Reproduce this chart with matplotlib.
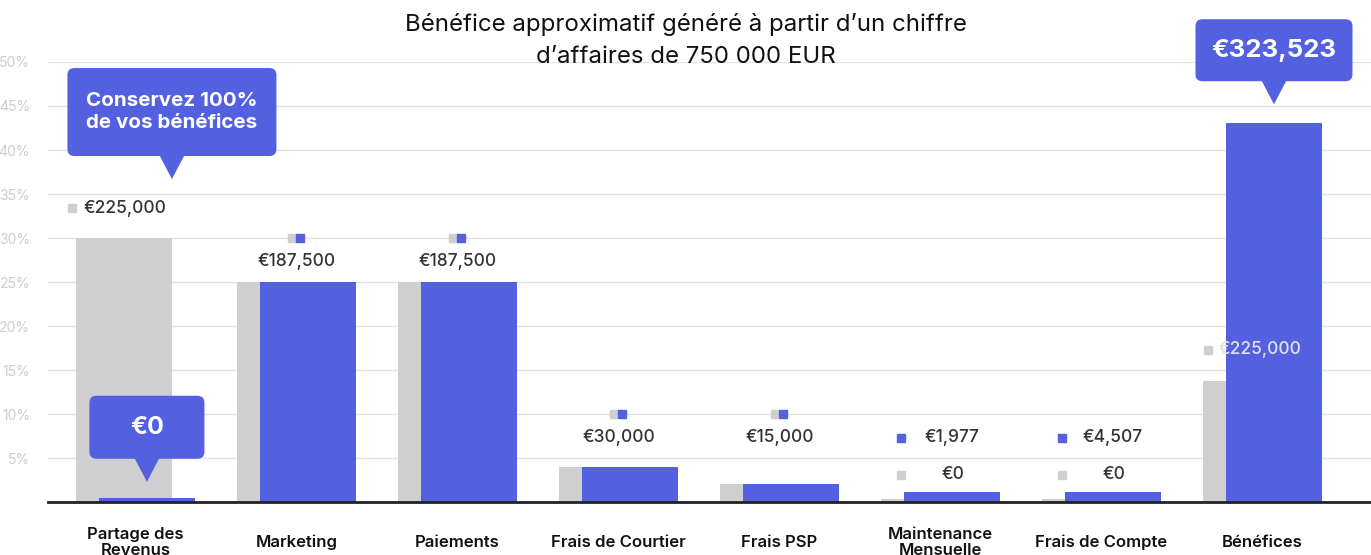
import matplotlib.pyplot as plt
from matplotlib.patches import FancyBboxPatch, Polygon

plt.rcParams['font.family'] = ['Inter', 'DejaVu Sans']

categories = ['Partage des\nRevenus', 'Marketing', 'Paiements', 'Frais de Courtier',
              'Frais PSP', 'Maintenance\nMensuelle', 'Frais de Compte', 'Bénéfices']
# share of the 750 000 EUR turnover, in %
gray_pct = [30, 25, 25, 4, 2, 0.35, 0.35, 13.7]
blue_pct = [0.45, 25, 25, 4, 2, 1.15, 1.15, 43.1]
gray_labels = ['€225,000', '€187,500', '€187,500', '€30,000', '€15,000', '€0', '€0', '€225,000']
blue_labels = ['€0', '€187,500', '€187,500', '€30,000', '€15,000', '€1,977', '€4,507', '€323,523']
yticks = [5, 10, 15, 20, 25, 30, 35, 40, 45, 50]

BLUE = '#5360E0'
GRAY = '#CFCFCF'
DARK = '#333333'
PX = 161.0   # pixels per category
PY = 8.8     # pixels per percent
W = 96 / PX
OFF = 11.5 / PX

fig = plt.figure(figsize=(13.71, 5.55), dpi=100)
ax = fig.add_axes([48 / 1371, 53 / 555, 1323 / 1371, 440 / 555])
ax.set_xlim(-0.543, 7.674)
ax.set_ylim(0, 50)

x = list(range(len(categories)))
ax.bar([i - OFF for i in x], gray_pct, width=W, color=GRAY, zorder=2)
ax.bar([i + OFF for i in x], blue_pct, width=W, color=BLUE, zorder=3)

ax.set_yticks(yticks)
ax.set_yticklabels([f'{t}%' for t in yticks], color='#cdcdcd', fontsize=10)
ax.grid(axis='y', color='#e3e3e3', linewidth=1, zorder=0)
ax.tick_params(axis='both', length=0)
ax.tick_params(axis='y', pad=13)
ax.set_xticks(x)
ax.set_xticklabels(categories, fontsize=12, fontweight='semibold', color='#111111',
                   linespacing=1.05)
for lbl in ax.get_xticklabels():
    lbl.set_va('center')
ax.tick_params(axis='x', pad=29)
for s in ['top', 'right', 'left']:
    ax.spines[s].set_visible(False)
ax.spines['bottom'].set_color('#222222')
ax.spines['bottom'].set_linewidth(2)
ax.spines['bottom'].set_zorder(5)

fig.text(0.5, 1 - 24 / 555, 'Bénéfice approximatif généré à partir d’un chiffre',
         ha='center', va='center', fontsize=17.3, color='#111111')
fig.text(0.5, 1 - 57 / 555, 'd’affaires de 750 000 EUR',
         ha='center', va='center', fontsize=17.3, color='#111111')


def square(xc, y, color):
    ax.plot([xc], [y], marker='s', markersize=6, color=color, linestyle='none',
            zorder=6, clip_on=False)


def value(xc, y, txt, color=DARK, ha='center'):
    ax.text(xc, y, txt, ha=ha, va='center', fontsize=12.5, fontweight='medium',
            color=color, zorder=7, clip_on=False)


def bubble(xc, ytip, wpx, hpx, txt, fs):
    w = wpx / PX
    h = hpx / PY
    ybot = ytip + 23 / PY
    box = FancyBboxPatch((xc - w / 2, ybot), w, h,
                         boxstyle=f'round,pad=0,rounding_size={7 / PX}',
                         mutation_aspect=PX / PY, facecolor=BLUE, edgecolor='none',
                         zorder=8, clip_on=False)
    ax.add_patch(box)
    tri = Polygon([(xc - 13 / PX, ybot + 0.2), (xc + 13 / PX, ybot + 0.2), (xc, ytip)],
                  closed=True, facecolor=BLUE, edgecolor='none', zorder=8, clip_on=False)
    ax.add_patch(tri)
    ax.text(xc, ybot + h / 2, txt, ha='center', va='center', fontsize=fs,
            fontweight='bold', color='white', zorder=9, linespacing=1.3, clip_on=False)


for i in x:
    g, b = gray_pct[i], blue_pct[i]
    if gray_labels[i] == blue_labels[i]:
        ys = max(g, 5) + 5
        square(i - 4 / PX, ys, GRAY)
        square(i + 4 / PX, ys, BLUE)
        value(i, ys - 24 / PY, gray_labels[i])

# Partage des Revenus
square(0 - 63.5 / PX, 33.4, GRAY)
value(0 - 52 / PX, 33.4, gray_labels[0], ha='left')
bubble(0 - OFF + W / 2, 36.7, 209, 88, 'Conservez 100%\nde vos bénéfices', 14.8)
bubble(0 + OFF, blue_pct[0] + 1.85, 115, 63, blue_labels[0], 18)

# Maintenance / Frais de Compte
for i in [5, 6]:
    square(i - 39.5 / PX, 7.3, BLUE)
    value(i + 11.5 / PX, 7.3, blue_labels[i])
    square(i - 39.5 / PX, 3.1, GRAY)
    value(i + 12.5 / PX, 3.1, gray_labels[i])

# Bénéfices
square(7 - 54.5 / PX, 17.3, GRAY)
value(7 - 44 / PX, 17.3, gray_labels[7], color='#e4e4e4', ha='left')
bubble(7 + OFF, blue_pct[7] + 2.1, 157, 62, blue_labels[7], 18.6)

fig.savefig('out.png', dpi=100)
